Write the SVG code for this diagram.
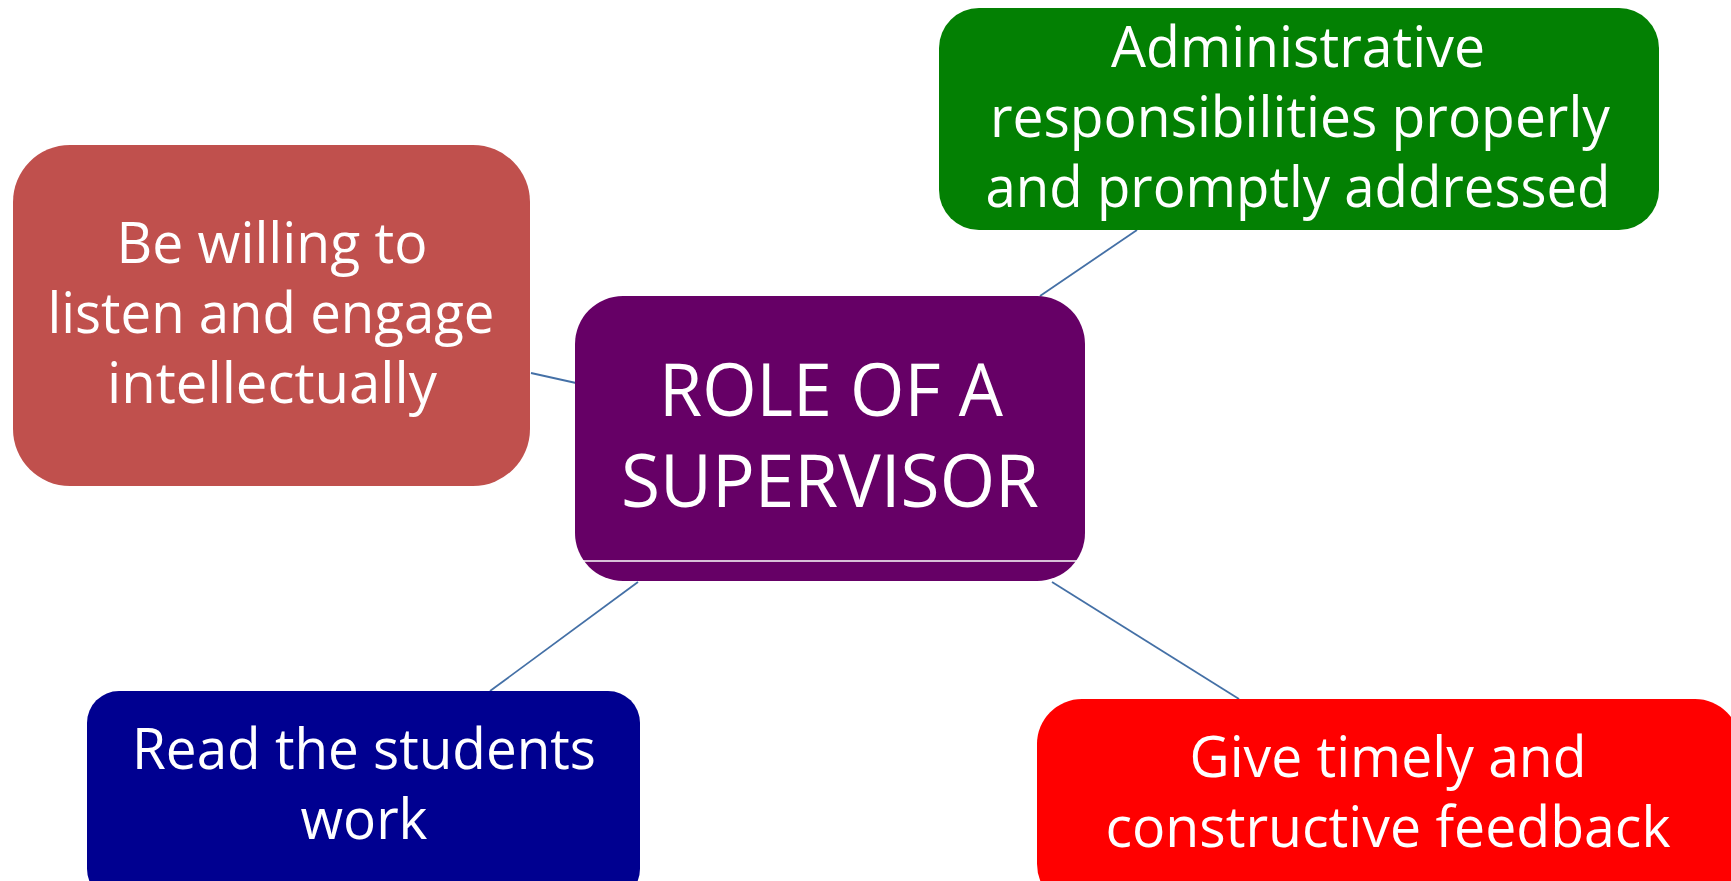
<svg xmlns="http://www.w3.org/2000/svg" width="1731" height="881" viewBox="0 0 1731 881">
<style>
.t{font-family:"Open Sans","Noto Sans","Liberation Sans",sans-serif;fill:#fff;text-anchor:middle}
.s{font-size:56px}
.b{font-size:74px}
.c{stroke:#4470A6;stroke-width:1.8;fill:none}
</style>
<rect width="1731" height="881" fill="#fff"/>
<g id="connectors">
<line class="c" x1="531" y1="373" x2="576" y2="383"/>
<line class="c" x1="1137" y1="230" x2="1040" y2="296"/>
<line class="c" x1="638" y1="582" x2="490" y2="691"/>
<line class="c" x1="1052" y1="582" x2="1239" y2="699"/>
</g>
<g id="node-listen">
<rect x="13" y="145" width="517" height="341" rx="57" fill="#C0504D"/>
<text class="t s" x="272" y="263" textLength="311" lengthAdjust="spacingAndGlyphs">Be willing to</text>
<text class="t s" x="271" y="333" textLength="447" lengthAdjust="spacingAndGlyphs">listen and engage</text>
<text class="t s" x="272" y="403" textLength="330" lengthAdjust="spacingAndGlyphs">intellectually</text>
</g>
<g id="node-admin">
<rect x="939" y="8" width="720" height="222" rx="40" fill="#038003"/>
<text class="t s" x="1298" y="67" textLength="374" lengthAdjust="spacingAndGlyphs">Administrative</text>
<text class="t s" x="1300" y="137" textLength="620" lengthAdjust="spacingAndGlyphs">responsibilities properly</text>
<text class="t s" x="1298" y="207" textLength="625" lengthAdjust="spacingAndGlyphs">and promptly addressed</text>
</g>
<g id="node-center">
<rect x="575" y="296" width="510" height="285" rx="48" fill="#660066"/>
<line x1="582" y1="561" x2="1077" y2="561" stroke="#fff" stroke-width="1.5"/>
<text class="t b" x="831" y="416" textLength="344" lengthAdjust="spacingAndGlyphs">ROLE OF A</text>
<text class="t b" x="830" y="507" textLength="418" lengthAdjust="spacingAndGlyphs">SUPERVISOR</text>
</g>
<g id="node-read">
<rect x="87" y="691" width="553" height="210" rx="32" fill="#000090"/>
<text class="t s" x="364" y="769" textLength="464" lengthAdjust="spacingAndGlyphs">Read the students</text>
<text class="t s" x="364" y="839" textLength="127" lengthAdjust="spacingAndGlyphs">work</text>
</g>
<g id="node-feedback">
<rect x="1037" y="699" width="703" height="210" rx="45" fill="#FF0000"/>
<text class="t s" x="1388" y="777" textLength="397" lengthAdjust="spacingAndGlyphs">Give timely and</text>
<text class="t s" x="1388" y="847" textLength="565" lengthAdjust="spacingAndGlyphs">constructive feedback</text>
</g>
</svg>
